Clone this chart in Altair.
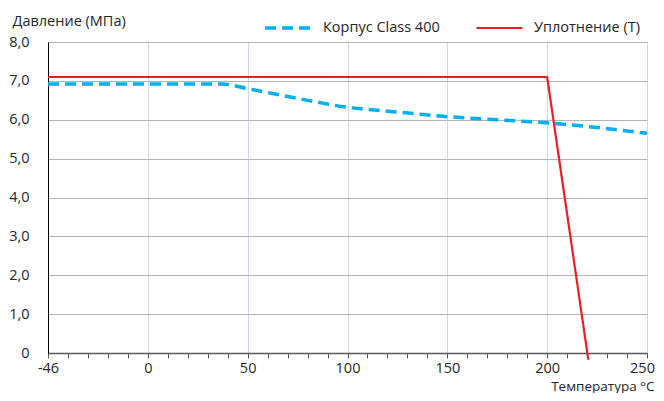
import altair as alt
import pandas as pd

series_names = ["Корпус Class 400", "Уплотнение (Т)"]

body_t = [-46, 0, 37, 50, 75, 100, 125, 150, 175, 200, 225, 250]
body_p = [6.92, 6.92, 6.92, 6.80, 6.55, 6.32, 6.20, 6.08, 6.00, 5.92, 5.80, 5.65]

seal_t = [-46, 200, 220.6]
seal_p = [7.1, 7.1, -0.17]

x_ticks = list(range(-50, 251, 10))
y_ticks = [0, 1, 2, 3, 4, 5, 6, 7, 8]

rows = []
for i, (t, p) in enumerate(zip(body_t, body_p)):
    rows.append({"series": series_names[0], "t": t, "p": p, "o": i})
for i, (t, p) in enumerate(zip(seal_t, seal_p)):
    rows.append({"series": series_names[1], "t": t, "p": p, "o": i})
df = pd.DataFrame(rows)

FONT = "Open Sans"
FS = 14.5
TXT = "#262626"

x_enc = alt.X(
    "xp:Q",
    scale=alt.Scale(domain=[-50, 250], nice=False, zero=False),
    axis=alt.Axis(
        values=x_ticks,
        labelExpr="datum.value % 50 == 0 ? (datum.value == -50 ? '-46' : '' + datum.value) : ''",
        title="Температура °С",
        titleAnchor="end",
        titleAlign="right",
        titleX=606,
        titleY=37,
        titleBaseline="alphabetic",
        titleFontWeight="normal",
        titleFont=FONT,
        titleFontSize=13.5,
        titleColor=TXT,
        labelFont=FONT,
        labelFontSize=FS,
        labelColor=TXT,
        labelPadding=3,
        labelOffset={"condition": {"test": "datum.value === 250", "value": -5}, "value": 0},
        labelFlush=False,
        labelOverlap=False,
        tickSize=5,
        tickColor="#595959",
        domainColor="#595959",
        domainWidth=1.5,
        grid=True,
        gridColor="#c6d9f0",
        gridOpacity={"condition": {"test": "datum.value % 50 === 0 && datum.value !== -50", "value": 1}, "value": 0},
    ),
)

y_enc = alt.Y(
    "p:Q",
    scale=alt.Scale(domain=[0, 8], nice=False),
    axis=alt.Axis(
        values=y_ticks,
        labelExpr="datum.value == 0 ? '0' : replace(format(datum.value, '.1f'), '.', ',')",
        title="Давление (МПа)",
        titleAngle=0,
        titleAlign="left",
        titleX=-36,
        titleY=-21,
        titleBaseline="middle",
        titleFontWeight="normal",
        titleFont=FONT,
        titleFontSize=FS,
        titleColor=TXT,
        labelFont=FONT,
        labelFontSize=FS,
        labelColor=TXT,
        labelPadding=19,
        ticks=False,
        domainColor="#000000",
        grid=True,
        gridColor="#b4b4b4",
    ),
)


def make_legend():
    return alt.Legend(
        title=None,
        orient="none",
        legendX=215,
        legendY=-39,
        direction="horizontal",
        symbolType="stroke",
        symbolSize=2116,
        labelFont=FONT,
        labelFontSize=FS,
        labelColor=TXT,
        labelOffset=10,
        columnPadding=32,
    )


color_enc = alt.Color(
    "series:N",
    scale=alt.Scale(domain=series_names, range=["#00b0f0", "#ee1c25"]),
    legend=make_legend(),
)
dash_enc = alt.StrokeDash(
    "series:N",
    scale=alt.Scale(domain=series_names, range=[[11, 6], [1, 0]]),
    legend=make_legend(),
)
width_enc = alt.StrokeWidth(
    "series:N",
    scale=alt.Scale(domain=series_names, range=[3.5, 2.2]),
    legend=make_legend(),
)

base = alt.Chart(df).transform_calculate(xp="datum.t < 0 ? datum.t * 50 / 46 : datum.t")

body = base.transform_filter(alt.datum.series == series_names[0]).mark_line(
    clip=False, interpolate="monotone"
).encode(x=x_enc, y=y_enc, color=color_enc, strokeDash=dash_enc, strokeWidth=width_enc, order="o:Q")

seal = base.transform_filter(alt.datum.series == series_names[1]).mark_line(
    clip=False
).encode(x=x_enc, y=y_enc, color=color_enc, strokeDash=dash_enc, strokeWidth=width_enc, order="o:Q")

chart = (
    alt.layer(body, seal)
    .properties(
        width=599,
        height=311,
        autosize=alt.AutoSizeParams(type="none"),
        padding={"left": 40, "top": 34, "right": 9, "bottom": 40},
        background="white",
    )
    .configure_view(stroke="#5b9bd5", strokeWidth=1)
)

chart.save("out.html", embed_options={"renderer": "svg", "actions": False})
